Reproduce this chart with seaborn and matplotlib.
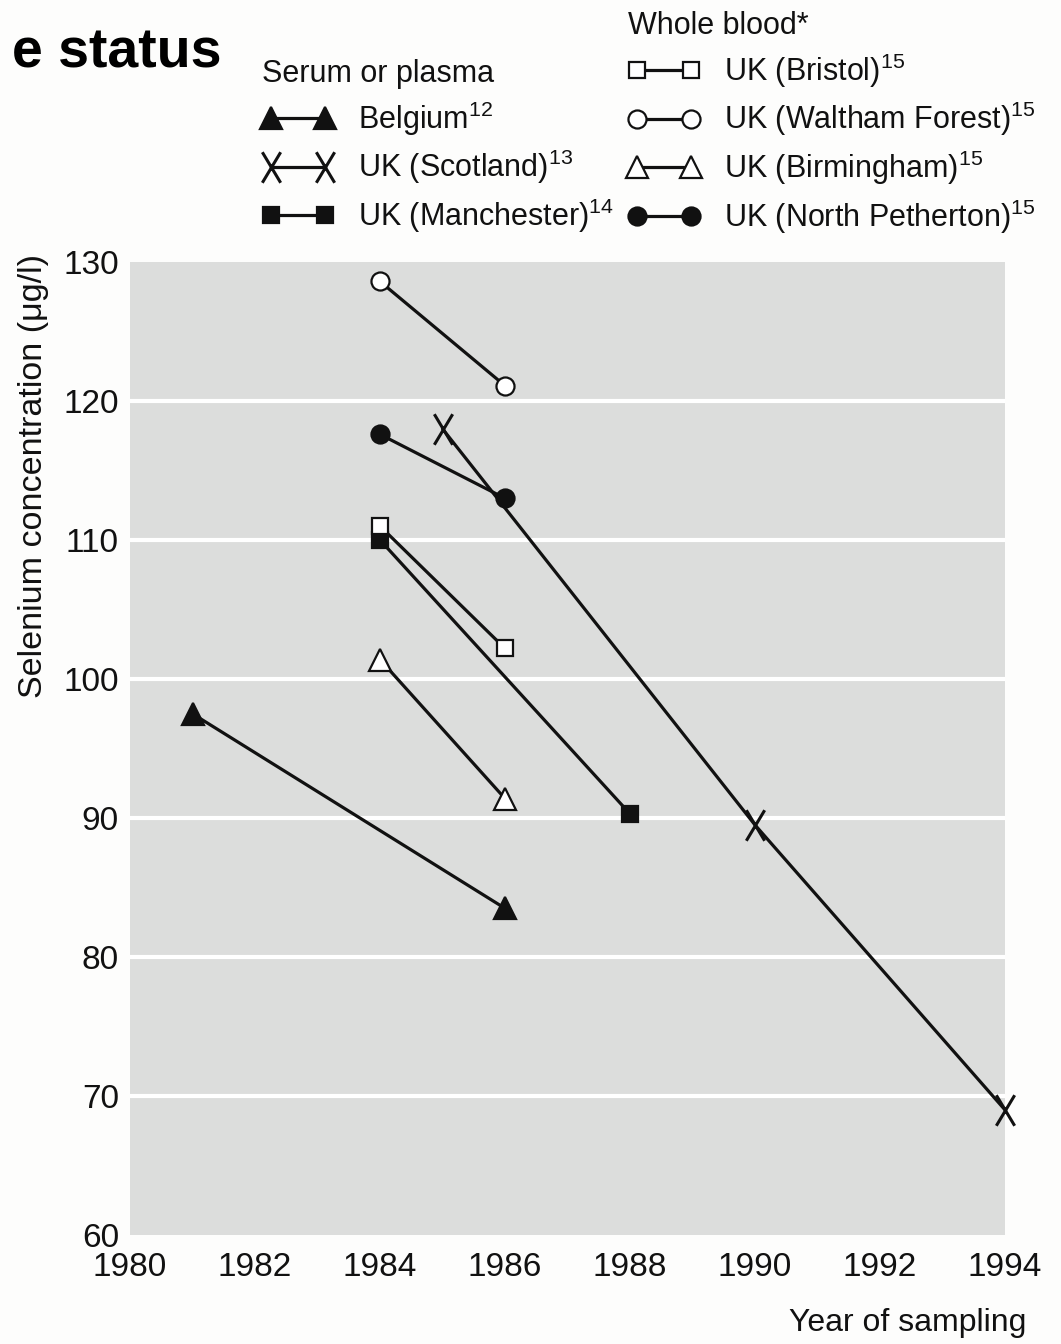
import matplotlib
matplotlib.use("Agg")
import matplotlib.pyplot as plt
from matplotlib.path import Path
import seaborn as sns

# ---- data: selenium concentration (ug/l) by year of sampling ----
# Serum or plasma
belgium_years = [1981, 1986]
belgium_se = [97.5, 83.5]
scotland_years = [1985, 1990, 1994]
scotland_se = [118.0, 89.5, 69.0]
manchester_years = [1984, 1988]
manchester_se = [110.0, 90.3]

# Whole blood
bristol_years = [1984, 1986]
bristol_se = [111.0, 102.2]
waltham_years = [1984, 1986]
waltham_se = [128.6, 121.1]
birmingham_years = [1984, 1986]
birmingham_se = [101.4, 91.4]
petherton_years = [1984, 1986]
petherton_se = [117.6, 113.0]

serum_labels = ["Belgium$^{12}$", "UK (Scotland)$^{13}$", "UK (Manchester)$^{14}$"]
blood_labels = ["UK (Bristol)$^{15}$", "UK (Waltham Forest)$^{15}$",
                "UK (Birmingham)$^{15}$", "UK (North Petherton)$^{15}$"]

x_ticks = [1980, 1982, 1984, 1986, 1988, 1990, 1992, 1994]
y_ticks = [60, 70, 80, 90, 100, 110, 120, 130]

# ---- style ----
sns.set_theme(style="white")
FONT = ["Liberation Sans", "DejaVu Sans"]
plt.rcParams["font.family"] = FONT
plt.rcParams["mathtext.fontset"] = "custom"
plt.rcParams["mathtext.rm"] = "Liberation Sans"
plt.rcParams["mathtext.it"] = "Liberation Sans:italic"
plt.rcParams["mathtext.bf"] = "Liberation Sans:bold"

INK = "#111111"
PANEL = "#dcdddc"
FS = 22

# narrow letter-like cross marker
x_marker = Path([(-0.3, -0.5), (0.3, 0.5), (-0.3, 0.5), (0.3, -0.5)],
                [Path.MOVETO, Path.LINETO, Path.MOVETO, Path.LINETO])

fig = plt.figure(figsize=(10.61, 13.44), dpi=100)
fig.patch.set_facecolor("#fdfdfc")
ax = fig.add_axes([130 / 1061, 1 - 1235 / 1344, 875 / 1061, 973 / 1344])
ax.set_facecolor(PANEL)

line_kw = dict(color=INK, lw=2.3, ax=ax, zorder=3, mew=1.6, clip_on=False)

series = [
    (belgium_years, belgium_se, serum_labels[0], dict(marker="^", ms=16, mfc=INK, mec=INK)),
    (scotland_years, scotland_se, serum_labels[1], dict(marker=x_marker, ms=22, mec=INK, mew=2.2)),
    (manchester_years, manchester_se, serum_labels[2], dict(marker="s", ms=11, mfc=INK, mec=INK)),
    (bristol_years, bristol_se, blood_labels[0], dict(marker="s", ms=11, mfc="white", mec=INK)),
    (waltham_years, waltham_se, blood_labels[1], dict(marker="o", ms=13, mfc="white", mec=INK)),
    (birmingham_years, birmingham_se, blood_labels[2], dict(marker="^", ms=16, mfc="white", mec=INK)),
    (petherton_years, petherton_se, blood_labels[3], dict(marker="o", ms=13, mfc=INK, mec=INK)),
]

handles = {}
for xs, ys, lab, mk in series:
    kw = dict(line_kw)
    kw.update(mk)
    sns.lineplot(x=xs, y=ys, label=lab, **kw)
    handles[lab] = ax.get_lines()[-1]

if ax.get_legend() is not None:
    ax.get_legend().remove()

# ---- axes ----
ax.set_xlim(1980, 1994)
ax.set_ylim(60, 130)
ax.set_xticks(x_ticks)
ax.set_yticks(y_ticks)
ax.tick_params(axis="y", length=0, pad=8, labelsize=24, labelcolor=INK)
ax.tick_params(axis="x", direction="in", length=14, width=2.5, color="white",
               pad=12, labelsize=24, labelcolor=INK)
xt = ax.xaxis.get_major_ticks()
xt[0].tick1line.set_visible(False)
xt[-1].tick1line.set_visible(False)
for s in ax.spines.values():
    s.set_visible(False)

ax.grid(axis="y", color="white", lw=3)
ax.grid(axis="x", visible=False)
ax.set_axisbelow(True)
gl = ax.get_ygridlines()
gl[0].set_visible(False)
gl[-1].set_visible(False)

ax.set_ylabel("Selenium concentration (μg/l)", fontsize=24.5, color=INK)
ax.yaxis.set_label_coords(-0.093, 0.78)
ax.set_xlabel("Year of sampling", fontsize=23, color=INK, ha="right")
ax.xaxis.set_label_coords(1.024, -0.075)

# ---- legends ----
leg_kw = dict(loc="upper left", frameon=False, numpoints=2, fontsize=FS,
              title_fontsize=FS, handlelength=2.35, handletextpad=0.8,
              labelspacing=0.34, borderpad=0, borderaxespad=0, alignment="left")

leg1 = fig.legend([handles[l] for l in serum_labels], serum_labels,
                  title="Serum or plasma",
                  bbox_to_anchor=(262 / 1061, 1 - 59 / 1344), **leg_kw)
leg2 = fig.legend([handles[l] for l in blood_labels], blood_labels,
                  title="Whole blood*",
                  bbox_to_anchor=(628 / 1061, 1 - 11 / 1344), **leg_kw)
for lg in (leg1, leg2):
    lg.get_title().set_color(INK)
    for t in lg.get_texts():
        t.set_color(INK)

fig.text(222 / 1061, 1 - 68 / 1344, "e status", ha="right", va="baseline",
         fontsize=40, fontweight="bold", family="Liberation Sans", color="black")

fig.savefig("out.png", dpi=100, facecolor=fig.get_facecolor())
